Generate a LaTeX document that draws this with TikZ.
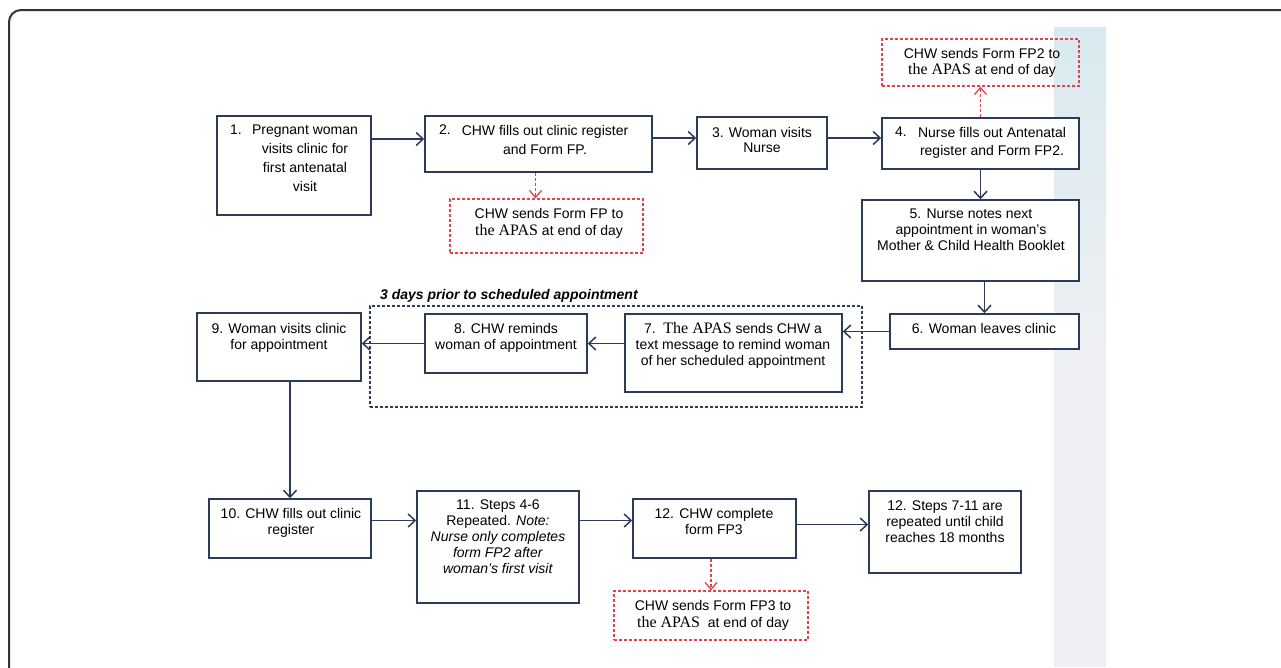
\documentclass[tikz,border=0pt]{standalone}
\usepackage{fontspec}
\setmainfont{Liberation Sans}
\newfontfamily\tnr{Liberation Serif}
\usetikzlibrary{arrows.meta,fit,calc}
\definecolor{navy}{HTML}{2B3B58}
\definecolor{redd}{HTML}{E2434B}
\definecolor{stripblue}{HTML}{D8EAF0}
\definecolor{stripgrey}{HTML}{EFF0F3}
\definecolor{framec}{HTML}{333333}
\newcommand\apas{{\tnr\fontsize{16}{16}\selectfont the APAS}}
\newcommand\Apas{{\tnr\fontsize{16}{16}\selectfont The APAS}}
\begin{document}
\begin{tikzpicture}[x=1pt,y=-1pt,
 box/.style={draw=navy,line width=1.5pt,fill=white,inner sep=0pt},
 redbox/.style={draw=redd,line width=1.2pt,dash pattern=on 3pt off 2pt,inner sep=0pt},
 grpbox/.style={draw=navy,line width=1.2pt,dash pattern=on 3pt off 2pt,inner sep=0pt},
 txt/.style={align=center,inner sep=0pt,anchor=north,font=\fontsize{14}{16}\selectfont},
 arr/.style={draw=navy,line width=1.5pt,-{Straight Barb[length=7pt,width=13pt]}},
 redarr/.style={draw=redd,line width=1.3pt,dash pattern=on 3pt off 2pt,-{Straight Barb[length=7pt,width=12pt]}}]
\useasboundingbox (0,0) rectangle (1281,667);
\clip (0,0) rectangle (1281,667);
% side strip
\shade[top color=stripblue,bottom color=stripgrey] (1054,27) rectangle (1106,360);
\fill[stripgrey] (1054,359) rectangle (1106,667);
% group box
\node[grpbox,fit={(370,306) (862,407)}] (grp) {};
\node[anchor=north west,inner sep=0pt,font=\fontsize{14}{16}\selectfont\bfseries\itshape] (lbl) at (380,289) {3 days prior to scheduled appointment};
% boxes
\node[box,fit={(217,116) (371,215)}] (b1) {};
\node[box,fit={(425,116) (652,172)}] (b2) {};
\node[box,fit={(697,117) (827,169)}] (b3) {};
\node[box,fit={(882,118) (1079,169)}] (b4) {};
\node[box,fit={(862,200) (1079,281)}] (b5) {};
\node[box,fit={(890,314) (1079,349)}] (b6) {};
\node[box,fit={(625,314) (842,392)}] (b7) {};
\node[box,fit={(425,314) (587,373)}] (b8) {};
\node[box,fit={(197,313) (361,381)}] (b9) {};
\node[box,fit={(209,499) (371,558)}] (b10) {};
\node[box,fit={(417,491) (579,603)}] (b11) {};
\node[box,fit={(633,499) (796,558)}] (b12) {};
\node[box,fit={(869,491) (1021,573)}] (b12b) {};
\node[redbox,fit={(450,199) (643,253)}] (fp1) {};
\node[redbox,fit={(882,39) (1079,86)}] (fp2) {};
\node[redbox,fit={(614,591) (808,640)}] (fp3) {};
% texts
\node[txt,anchor=north west] (n1) at (230,125) {1.};
\node[txt,font=\fontsize{14}{19}\selectfont] (t1) at (305,125) {Pregnant woman\\visits clinic for\\first antenatal\\visit};
\node[txt,anchor=north west] (n2) at (439,125) {2.};
\node[txt,font=\fontsize{14}{19}\selectfont] (t2) at (545,125) {CHW fills out clinic register\\and Form FP.};
\node[txt,font=\fontsize{14}{15.5}\selectfont] (t3) at (762,127) {3. Woman visits\\Nurse};
\node[txt,anchor=north west] (n4) at (895,127) {4.};
\node[txt,font=\fontsize{14}{18.3}\selectfont] (t4) at (992,127) {Nurse fills out Antenatal\\register and Form FP2.};
\node[txt] (tf2) at (982,48) {CHW sends Form FP2 to\\\apas{} at end of day};
\node[txt] (t5) at (971,209) {5. Nurse notes next\\appointment in woman's\\Mother \& Child Health Booklet};
\node[txt] (t6) at (984,323) {6. Woman leaves clinic};
\node[txt] (t7) at (733,322) {7.\ \ \Apas{} sends CHW a\\text message to remind woman\\of her scheduled appointment};
\node[txt] (t8) at (506,323) {8. CHW reminds\\woman of appointment};
\node[txt] (t9) at (279,323) {9. Woman visits clinic\\for appointment};
\node[txt] (t10) at (291,508) {10. CHW fills out clinic\\register};
\node[txt] (t11) at (498,500) {11. Steps 4-6\\Repeated. \textit{Note:}\\\textit{Nurse only completes}\\\textit{form FP2 after}\\\textit{woman's first visit}};
\node[txt] (t12) at (714,508) {12. CHW complete\\form FP3};
\node[txt] (t12b) at (945,501) {12. Steps 7-11 are\\repeated until child\\reaches 18 months};
\node[txt,font=\fontsize{14}{17}\selectfont] (tf1) at (549,208) {CHW sends Form FP to\\\apas{} at end of day};
\node[txt,font=\fontsize{14}{17}\selectfont] (tf3) at (713,600) {CHW sends Form FP3 to\\\apas{}\ \ at end of day};
% connectors
\coordinate (r1) at ([yshift=5pt]b2.west);
\draw[arr] (b1.east |- r1) -- (r1);
\coordinate (r2) at ([yshift=5pt]b3.west);
\draw[arr] (b2.east |- r2) -- (r2);
\draw[arr] (b3.east |- r2) -- (b4.west |- r2);
\draw[arr] (b4.south) -- (b4.south |- b5.north);
\draw[arr] (b6.north |- b5.south) -- (b6.north);
\draw[redarr] (b4.north) -- (fp2.south);
\draw[redarr] ([xshift=-3pt]b2.south) -- ([xshift=-3pt]b2.south |- fp1.north);
\draw[arr] (b6.west) -- (b6.west -| b7.east);
\draw[arr] (b8.east -| b7.west) -- (b8.east);
\draw[arr] (b8.west) -- (b8.west -| b9.east);
\draw[arr] (b10.north |- b9.south) -- (b10.north);
\coordinate (r4) at ([yshift=8pt]b10.east);
\draw[arr] (r4) -- (r4 -| b11.west);
\draw[arr] (b11.east |- r4) -- (b12.west |- r4);
\coordinate (r5) at ([yshift=4pt]b12.east);
\draw[arr] (r5) -- (r5 -| b12b.west);
\draw[redarr] (fp3.north |- b12.south) -- (fp3.north);
% outer frame
\draw[framec,line width=2pt,rounded corners=12pt] (9,700) -- (9,10) -- (1300,10);
\end{tikzpicture}
\end{document}
